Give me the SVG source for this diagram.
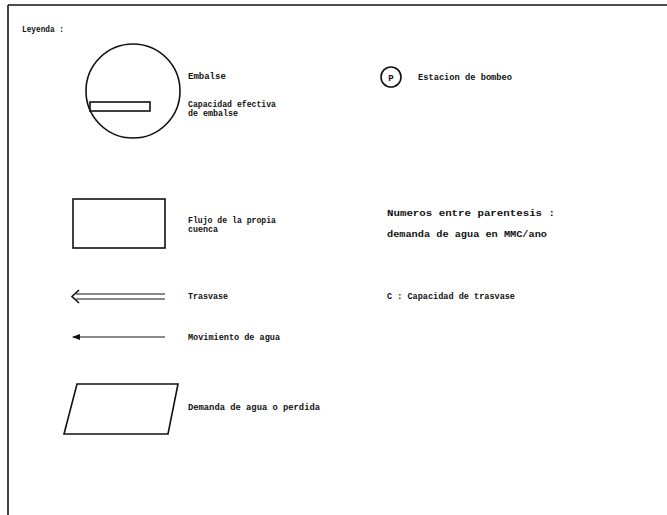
<svg xmlns="http://www.w3.org/2000/svg" width="667" height="515" viewBox="0 0 667 515">
<defs>
<style>
text{font-family:"Liberation Mono","DejaVu Sans Mono",monospace;font-size:9px;font-weight:bold;fill:#111}
.s{fill:none;stroke:#111;stroke-width:1.6}
.t{fill:none;stroke:#111;stroke-width:1}
</style>
<marker id="ah" markerWidth="8" markerHeight="6" refX="1" refY="3" orient="auto" markerUnits="userSpaceOnUse">
<path d="M8,0 L0,3 L8,6 Z" fill="#111"/>
</marker>
</defs>
<rect width="667" height="515" fill="#fff"/>
<g id="frame">
<line x1="8" y1="5" x2="667" y2="5" class="s"/>
<line x1="8" y1="5" x2="8" y2="515" class="s"/>
</g>
<g id="title"><text x="22" y="32" textLength="42" lengthAdjust="spacingAndGlyphs">Leyenda :</text></g>
<g id="embalse">
<circle cx="133" cy="91" r="47" class="s"/>
<rect x="90" y="102" width="60" height="9" class="s"/>
<text x="188" y="79">Embalse</text>
<text x="188" y="107" textLength="88" lengthAdjust="spacingAndGlyphs">Capacidad efectiva</text>
<text x="188" y="116" textLength="50" lengthAdjust="spacingAndGlyphs">de embalse</text>
</g>
<g id="bombeo">
<circle cx="391" cy="77" r="10" class="s"/>
<text x="391" y="80.5" text-anchor="middle">P</text>
<text x="418" y="80" textLength="94" lengthAdjust="spacingAndGlyphs">Estacion de bombeo</text>
</g>
<g id="flujo">
<rect x="73" y="199" width="92" height="49" class="s"/>
<text x="188" y="223" textLength="88" lengthAdjust="spacingAndGlyphs">Flujo de la propia</text>
<text x="188" y="232" textLength="30" lengthAdjust="spacingAndGlyphs">cuenca</text>
</g>
<g id="numeros">
<text x="387" y="216" textLength="168" lengthAdjust="spacingAndGlyphs">Numeros entre parentesis :</text>
<text x="387" y="237" textLength="160" lengthAdjust="spacingAndGlyphs">demanda de agua en MMC/ano</text>
</g>
<g id="connectors">
<g id="trasvase-arrow">
<line x1="76" y1="294" x2="165" y2="294" class="t"/>
<line x1="76" y1="299" x2="165" y2="299" class="t"/>
<path d="M79,290 L72,296.5 L79,303" class="s"/>
</g>
<g id="movimiento-arrow">
<line x1="73" y1="337" x2="165" y2="337" class="t" marker-start="url(#ah)"/>
</g>
</g>
<g id="trasvase-label"><text x="188" y="299" textLength="40" lengthAdjust="spacingAndGlyphs">Trasvase</text></g>
<g id="capacidad"><text x="387" y="299" textLength="128" lengthAdjust="spacingAndGlyphs">C : Capacidad de trasvase</text></g>
<g id="movimiento-label"><text x="188" y="340" textLength="92" lengthAdjust="spacingAndGlyphs">Movimiento de agua</text></g>
<g id="demanda">
<polygon points="77,384 178,384 168,434 64,434" class="s"/>
<text x="188" y="410" textLength="132" lengthAdjust="spacingAndGlyphs">Demanda de agua o perdida</text>
</g>
</svg>
